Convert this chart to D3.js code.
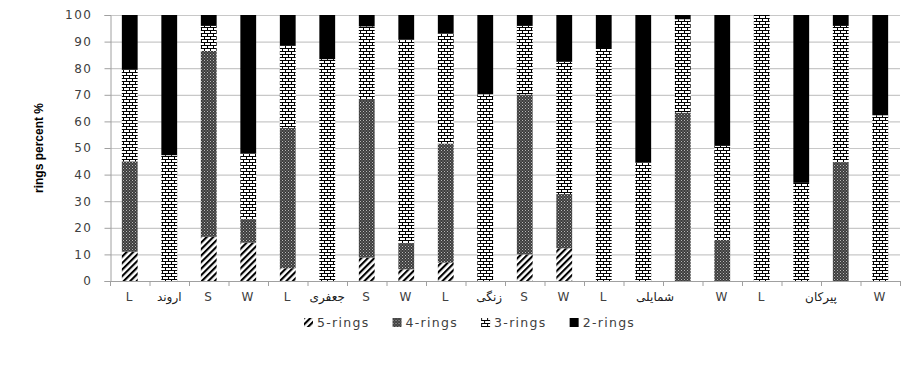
<!DOCTYPE html>
<html>
<head>
<meta charset="utf-8">
<script src="https://cdn.jsdelivr.net/npm/d3@7"></script>
<style>
  body { margin: 0; background: #fff; }
  svg { display: block; }
  .tick-txt { font-family: "DejaVu Sans", sans-serif; font-size: 12px; fill: #404040; letter-spacing: 1.5px; }
</style>
</head>
<body>
<svg id="chart" width="923" height="383"></svg>
<script>
// bar letters (hidden under the group names where empty)
const categories = ["L","","S","W","L","","S","W","L","","S","W","L","","","W","L","","","W"];
const groupNames = ["اروند","جعفری","زنگی","شمایلی","پیرکان"];
const groupAt = [1, 5, 9.1, 13.3, 17.5]; // bar index under the name

const series = ["5-rings","4-rings","3-rings","2-rings"];
const rings5 = [11, 0, 16.6, 14.4, 4.8, 0, 8.8, 4.4, 6.9, 0, 10, 12.3, 0, 0, 0, 0, 0, 0, 0, 0];
const rings4 = [34, 0, 69.9, 8.8, 52.8, 0, 59.4, 9.7, 44.8, 0, 60.1, 20.4, 0, 0, 63.3, 15.4, 0, 0, 44.6, 0];
const rings3 = [34.6, 47.3, 9.4, 24.7, 30.8, 83.4, 27.5, 76.6, 41.3, 70.2, 25.8, 49.7, 87.6, 44.6, 35.1, 35.4, 100, 36.9, 51.3, 62.3];
const rings2 = [20.4, 52.7, 4.1, 52.1, 11.6, 16.6, 4.3, 9.3, 7, 29.8, 4.1, 17.6, 12.4, 55.4, 1.6, 49.2, 0, 63.1, 4.1, 37.7];
const yTicks = [0,10,20,30,40,50,60,70,80,90,100];

const rows = categories.map((c, i) => ({
  i: i,
  "5-rings": rings5[i], "4-rings": rings4[i], "3-rings": rings3[i], "2-rings": rings2[i]
}));

const svg = d3.select("#chart");
const plotL = 110, plotR = 900, plotT = 15, plotB = 281;

const x = d3.scaleBand().domain(d3.range(categories.length)).range([plotL, plotR])
  .paddingInner(0.6).paddingOuter(0.3);
const y = d3.scaleLinear().domain([0, 100]).range([plotB, plotT]);

// patterns
const defs = svg.append("defs");
const p5 = defs.append("pattern").attr("id", "p5").attr("patternUnits", "userSpaceOnUse")
  .attr("width", 4.6).attr("height", 4.6).attr("patternTransform", "rotate(45)");
p5.append("rect").attr("width", 4.6).attr("height", 4.6).attr("fill", "#fff");
p5.append("rect").attr("width", 2.1).attr("height", 4.6).attr("fill", "#000");

const p4 = defs.append("pattern").attr("id", "p4").attr("patternUnits", "userSpaceOnUse")
  .attr("width", 3).attr("height", 3);
p4.append("rect").attr("width", 3).attr("height", 3).attr("fill", "#3c3c3c");
p4.append("rect").attr("x", 0).attr("y", 0).attr("width", 1).attr("height", 1).attr("fill", "#b8b8b8");
p4.append("rect").attr("x", 1.5).attr("y", 1.5).attr("width", 1).attr("height", 1).attr("fill", "#9a9a9a");

const p3 = defs.append("pattern").attr("id", "p3").attr("patternUnits", "userSpaceOnUse")
  .attr("width", 6).attr("height", 6);
p3.append("rect").attr("width", 6).attr("height", 6).attr("fill", "#fff");
p3.append("rect").attr("y", 0).attr("width", 6).attr("height", 1).attr("fill", "#000");
p3.append("rect").attr("y", 3).attr("width", 6).attr("height", 1).attr("fill", "#000");
p3.append("rect").attr("x", 0).attr("y", 0).attr("width", 1).attr("height", 3).attr("fill", "#000");
p3.append("rect").attr("x", 3).attr("y", 3).attr("width", 1).attr("height", 3).attr("fill", "#000");

const fills = {"5-rings": "url(#p5)", "4-rings": "url(#p4)", "3-rings": "url(#p3)", "2-rings": "#000"};

// gridlines
svg.append("g").selectAll("line").data(yTicks.filter(d => d > 0)).join("line")
  .attr("x1", plotL).attr("x2", plotR)
  .attr("y1", d => y(d) + 0.5).attr("y2", d => y(d) + 0.5)
  .attr("stroke", "#c8c8c8").attr("stroke-width", 1.2);

// y axis
const yAxis = svg.append("g").attr("transform", `translate(${plotL + 0.5},0)`)
  .call(d3.axisLeft(y).tickValues(yTicks).tickSize(6).tickPadding(12));
yAxis.select(".domain").attr("stroke", "#a0a0a0");
yAxis.selectAll(".tick line").attr("stroke", "#a0a0a0");
yAxis.selectAll("text").attr("class", "tick-txt").attr("font-family", null).attr("font-size", null);

// bars
const stack = d3.stack().keys(series)(rows);
svg.append("g").selectAll("g").data(stack).join("g")
  .attr("fill", d => fills[d.key])
  .selectAll("rect").data(d => d.filter(v => v[1] - v[0] > 0)).join("rect")
  .attr("x", d => x(d.data.i))
  .attr("width", x.bandwidth())
  .attr("y", d => y(d[1]))
  .attr("height", d => y(d[0]) - y(d[1]));

// x axis: baseline and ticks at band boundaries
const xa = svg.append("g");
xa.append("line").attr("x1", plotL).attr("x2", plotR)
  .attr("y1", plotB + 0.5).attr("y2", plotB + 0.5).attr("stroke", "#a0a0a0");
xa.selectAll(".bt").data(d3.range(categories.length + 1)).join("line")
  .attr("x1", i => plotL + i * x.step() + 0.5).attr("x2", i => plotL + i * x.step() + 0.5)
  .attr("y1", plotB).attr("y2", plotB + 5).attr("stroke", "#a0a0a0");
xa.selectAll(".lbl").data(categories).join("text")
  .attr("class", "tick-txt")
  .attr("x", (d, i) => x(i) + x.bandwidth() / 2)
  .attr("y", plotB + 20)
  .attr("text-anchor", "middle")
  .text(d => d);
xa.selectAll(".grp").data(groupNames).join("text")
  .attr("x", (d, i) => x(0) + groupAt[i] * x.step() + x.bandwidth() / 2)
  .attr("y", plotB + 20)
  .attr("text-anchor", "middle")
  .attr("font-family", "DejaVu Sans, sans-serif")
  .attr("font-size", 12)
  .attr("fill", "#202020")
  .text(d => d);

// y title
svg.append("text")
  .attr("transform", `translate(43,${(plotT + plotB) / 2}) rotate(-90)`)
  .attr("text-anchor", "middle")
  .attr("font-family", "Liberation Sans Narrow, Arial Narrow, sans-serif")
  .attr("font-weight", "bold")
  .attr("font-size", 12)
  .attr("fill", "#000")
  .text("rings percent %");

// legend
const legend = svg.append("g").attr("transform", "translate(304,323)");
let lx = 0;
series.forEach(s => {
  const g = legend.append("g").attr("transform", `translate(${lx},0)`);
  g.append("rect").attr("x", 0).attr("y", -5).attr("width", 9).attr("height", 9).attr("fill", fills[s]);
  const t = g.append("text").attr("x", 13).attr("y", 0).attr("dy", "0.35em")
    .attr("font-family", "DejaVu Sans, sans-serif").attr("font-size", 12.5)
    .attr("letter-spacing", 1.3).attr("fill", "#404040").text(s);
  lx += 13 + t.node().getComputedTextLength() + 23;
});
</script>
</body>
</html>
